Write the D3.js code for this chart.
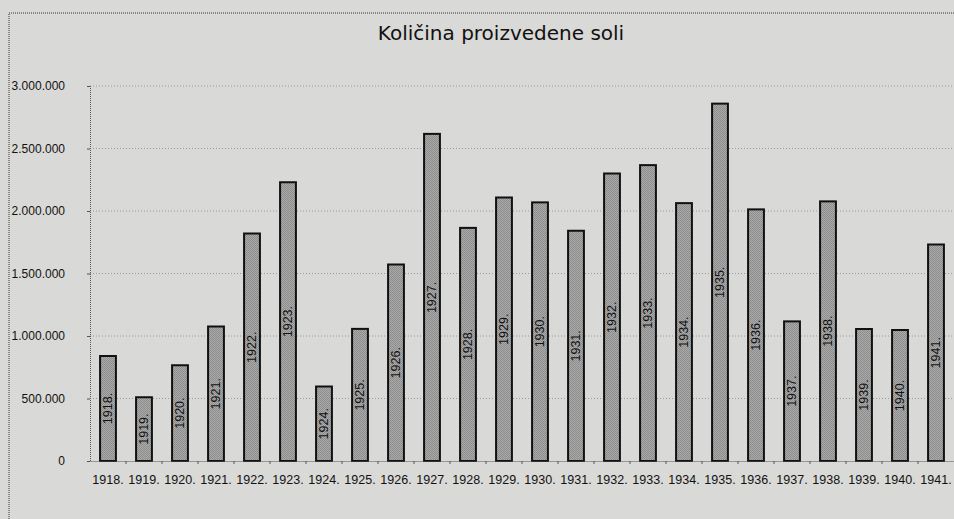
<!DOCTYPE html>
<html>
<head>
<meta charset="utf-8">
<script src="https://cdn.jsdelivr.net/npm/d3@7"></script>
<style>
  body { margin: 0; background: #d9d9d7; }
  svg { display: block; }
  .title { font-family: "DejaVu Sans", sans-serif; font-size: 20px; fill: #111; }
  .tick text { font-family: "Liberation Sans Narrow", "Liberation Sans", sans-serif; font-size: 12.5px; fill: #111; }
  .y.axis .tick text { font-size: 12px; }
  .barLabel { font-family: "Liberation Sans Narrow", "Liberation Sans", sans-serif; font-size: 12.5px; fill: #111; }
</style>
</head>
<body>
<div class="chart"></div>
<script>
// Data
var years = ["1918.", "1919.", "1920.", "1921.", "1922.", "1923.", "1924.", "1925.",
  "1926.", "1927.", "1928.", "1929.", "1930.", "1931.", "1932.", "1933.", "1934.",
  "1935.", "1936.", "1937.", "1938.", "1939.", "1940.", "1941."];
var salt = [840000, 510000, 766000, 1076000, 1820000, 2230000, 596000, 1057000,
  1572000, 2617000, 1865000, 2108000, 2069000, 1842000, 2300000, 2367000, 2063000,
  2859000, 2013000, 1117000, 2077000, 1056000, 1048000, 1732000];
var yTicks = [0, 500000, 1000000, 1500000, 2000000, 2500000, 3000000];
var titleText = "Količina proizvedene soli";

var svgWidth = 954;
var svgHeight = 519;
var margin = { top: 86, right: 0, bottom: 58, left: 90 };
var width = svgWidth - margin.left - margin.right;
var height = svgHeight - margin.top - margin.bottom;

var svg = d3.select(".chart")
  .append("svg")
  .attr("width", svgWidth)
  .attr("height", svgHeight);

// bar pattern (fine grey dither like the print)
var pat = svg.append("defs").append("pattern")
  .attr("id", "dither")
  .attr("width", 2).attr("height", 2)
  .attr("patternUnits", "userSpaceOnUse");
pat.append("rect").attr("width", 2).attr("height", 2).attr("fill", "#ababab");
pat.append("rect").attr("width", 1).attr("height", 1).attr("fill", "#8c8c8c");
pat.append("rect").attr("x", 1).attr("y", 1).attr("width", 1).attr("height", 1).attr("fill", "#8c8c8c");

// outer frame (dotted)
svg.append("path")
  .attr("d", `M9,${svgHeight} L9,13 L${svgWidth},13`)
  .attr("fill", "none")
  .attr("stroke", "#333")
  .attr("stroke-width", 1)
  .attr("stroke-dasharray", "1,1");

svg.append("text")
  .attr("class", "title")
  .attr("x", 501)
  .attr("y", 40)
  .attr("text-anchor", "middle")
  .text(titleText);

var chartGroup = svg.append("g")
  .attr("transform", `translate(${margin.left},${margin.top})`);

var x = d3.scaleBand()
  .domain(years)
  .range([0, width])
  .paddingInner(0.56)
  .paddingOuter(0.28);

var y = d3.scaleLinear()
  .domain([0, 3000000])
  .range([height, 0]);

var fmt = function(d) { return d3.format(",")(d).replace(/,/g, "."); };

// gridlines
chartGroup.append("g")
  .selectAll("line")
  .data(yTicks.slice(1))
  .enter()
  .append("line")
  .attr("x1", 0)
  .attr("x2", width)
  .attr("y1", d => y(d))
  .attr("y2", d => y(d))
  .attr("stroke", "#9a9a9a")
  .attr("stroke-width", 1)
  .attr("stroke-dasharray", "1,2");

// y axis
var leftAxis = d3.axisLeft(y).tickValues(yTicks).tickFormat(fmt).tickSize(3).tickPadding(22);
var gy = chartGroup.append("g").attr("class", "y axis").call(leftAxis);
gy.select(".domain").attr("stroke", "#555").attr("stroke-dasharray", "1,1");
gy.selectAll(".tick line").attr("stroke", "#555");

// bars
chartGroup.selectAll("rect.bar")
  .data(salt)
  .enter()
  .append("rect")
  .attr("class", "bar")
  .attr("x", (d, i) => x(years[i]))
  .attr("y", d => y(d))
  .attr("width", x.bandwidth())
  .attr("height", d => height - y(d))
  .attr("fill", "url(#dither)")
  .attr("stroke", "#111")
  .attr("stroke-width", 2);

// labels inside bars
chartGroup.selectAll("text.barLabel")
  .data(salt)
  .enter()
  .append("text")
  .attr("class", "barLabel")
  .attr("text-anchor", "middle")
  .attr("dy", "0.35em")
  .attr("transform", (d, i) => `translate(${x(years[i]) + x.bandwidth() / 2},${(y(d) + height) / 2}) rotate(-90)`)
  .text((d, i) => years[i]);

// x axis
var bottomAxis = d3.axisBottom(x).tickSize(0).tickPadding(14);
var gx = chartGroup.append("g")
  .attr("transform", `translate(0, ${height})`)
  .call(bottomAxis);
gx.select(".domain").attr("stroke", "#555").attr("stroke-dasharray", "1,1");

// small ticks between categories
gx.selectAll("line.sep")
  .data(years.slice(1))
  .enter()
  .append("line")
  .attr("class", "sep")
  .attr("x1", d => x(d) - x.step() * x.paddingInner() / 2)
  .attr("x2", d => x(d) - x.step() * x.paddingInner() / 2)
  .attr("y1", 0)
  .attr("y2", 3)
  .attr("stroke", "#555");
</script>
</body>
</html>
